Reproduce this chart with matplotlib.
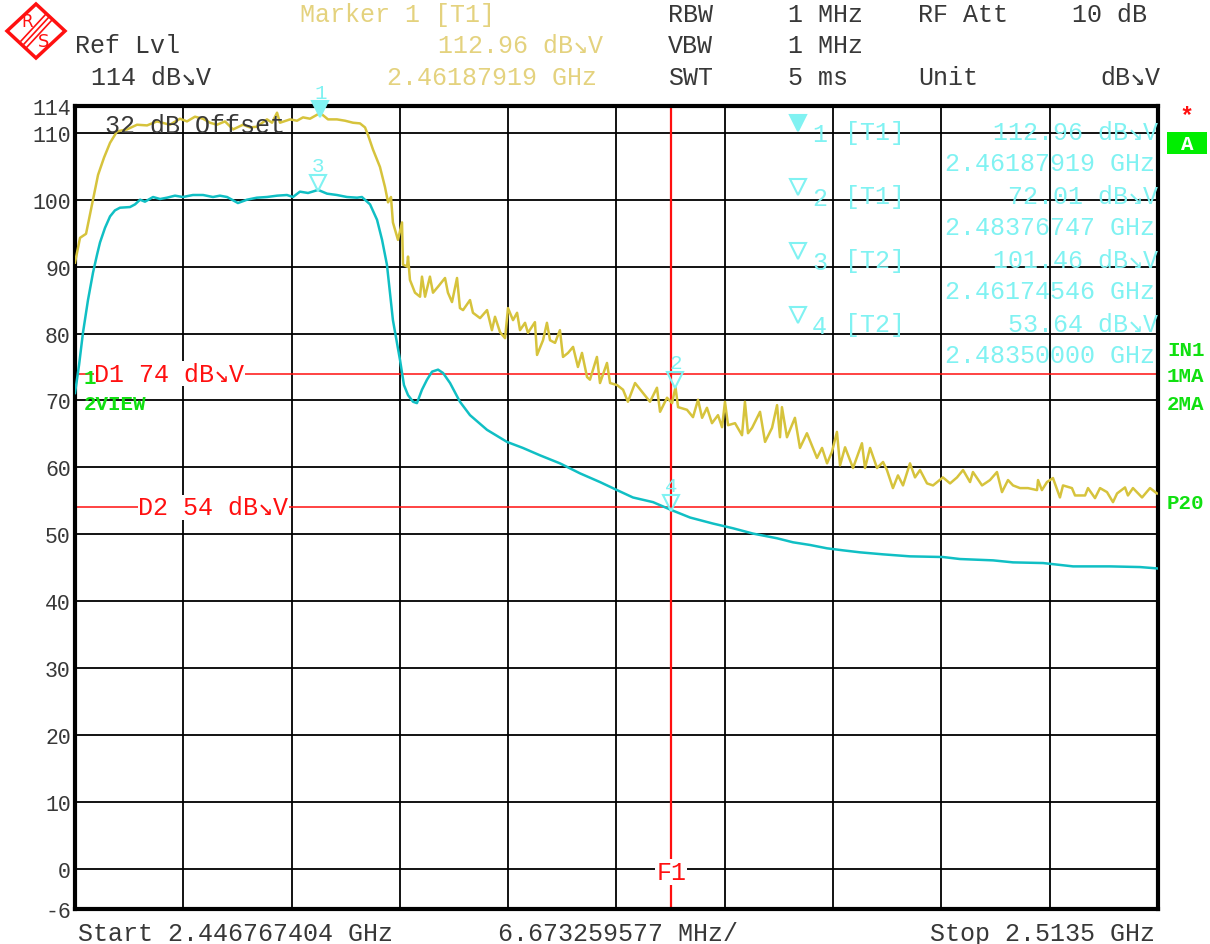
import matplotlib
matplotlib.use('Agg')
import matplotlib.pyplot as plt
from matplotlib.patches import Polygon, Rectangle
from matplotlib.transforms import offset_copy

W, H = 1210, 945

start_ghz = 2.446767404
div_mhz = 6.673259577
stop_ghz = 2.5135
ref_lvl = 114

# trace 1 (yellow) - MHz above start, level dBuV
t1_off = [0.00, 0.31, 0.68, 1.05, 1.42, 1.79, 2.16, 2.59, 3.20, 3.82, 4.44, 5.05, 5.85, 6.47, 6.90,
          7.39, 7.89, 8.32, 8.75, 9.24, 9.74, 10.35, 10.78, 11.21, 11.83, 12.14, 12.45, 12.63, 13.25,
          13.68, 14.05, 14.48, 15.11, 15.59, 16.14, 16.64, 17.13, 17.56, 17.87, 18.05, 18.36, 18.79,
          19.10, 19.29, 19.47, 19.59, 19.90, 20.15, 20.21, 20.46, 20.52, 20.64, 20.95, 21.26, 21.38,
          21.57, 21.87, 22.06, 22.37, 22.80, 22.98, 23.23, 23.54, 23.72, 23.91, 24.34, 24.52, 24.96,
          25.39, 25.69, 25.88, 26.19, 26.50, 26.68, 26.99, 27.24, 27.42, 27.73, 27.91, 28.34, 28.47,
          28.84, 29.08, 29.27, 29.58, 29.88, 30.07, 30.38, 30.69, 30.99, 31.24, 31.55, 31.73, 32.16,
          32.35, 32.78, 32.97, 33.40, 33.77, 34.07, 34.51, 35.00, 35.43, 35.86, 36.05, 36.48, 36.79,
          37.00, 37.16, 37.71, 38.08, 38.39, 38.64, 38.94, 39.25, 39.62, 39.87, 40.05, 40.24, 40.67,
          41.10, 41.28, 41.47, 41.72, 42.21, 42.52, 42.95, 43.26, 43.44, 43.56, 43.87, 44.36, 44.67,
          45.10, 45.72, 46.03, 46.34, 46.64, 46.95, 47.14, 47.45, 47.94, 48.49, 48.68, 48.99, 49.42,
          49.79, 50.03, 50.40, 50.71, 51.02, 51.45, 51.76, 52.07, 52.50, 52.87, 53.48, 53.92, 54.35,
          54.72, 55.15, 55.33, 55.89, 56.38, 56.81, 57.12, 57.49, 57.80, 58.23, 58.72, 59.28, 59.34,
          59.58, 59.89, 60.26, 60.69, 60.88, 61.43, 61.62, 62.24, 62.42, 62.85, 63.16, 63.59, 63.96,
          64.21, 64.70, 64.88, 65.19, 65.75, 66.24, 66.67]
t1_lvl = [90.6, 94.3, 94.9, 99.3, 103.7, 106.3, 108.5, 110.2, 110.5, 111.2, 111.1, 111.7, 111.2, 112.1, 111.7,
          112.4, 112.1, 111.5, 111.2, 111.7, 110.5, 111.2, 110.8, 110.9, 112.0, 111.5, 113.0, 111.5, 112.0,
          111.8, 112.3, 112.1, 112.96, 112.0, 112.0, 111.8, 111.5, 111.4, 110.8, 109.7, 107.5, 104.9,
          101.9, 99.6, 100.4, 96.6, 94.0, 96.6, 90.3, 90.0, 91.5, 88.0, 86.1, 85.5, 88.5,
          85.5, 88.5, 86.1, 87.0, 88.3, 86.1, 84.7, 88.3, 83.8, 83.5, 85.0, 83.1, 82.3,
          83.5, 80.5, 82.5, 80.2, 79.3, 83.8, 82.0, 83.1, 80.5, 81.6, 80.1, 81.7, 76.8,
          79.0, 81.6, 79.0, 78.6, 80.5, 76.5, 77.1, 78.0, 75.0, 77.1, 73.5, 73.1, 76.5,
          72.6, 75.6, 72.6, 72.3, 71.6, 69.8, 72.6, 71.1, 69.8, 71.9, 68.3, 70.4, 69.6,
          72.01, 69.0, 68.6, 67.5, 70.1, 67.4, 68.9, 66.6, 67.8, 66.0, 69.8, 66.3, 66.6,
          64.8, 69.8, 65.1, 65.9, 68.3, 63.8, 65.9, 69.3, 64.5, 69.0, 64.5, 67.4, 62.9,
          65.1, 61.4, 62.9, 60.6, 62.3, 65.3, 60.3, 63.0, 59.9, 63.6, 59.9, 62.9, 59.9,
          60.8, 59.6, 56.9, 58.8, 57.3, 60.6, 58.5, 59.6, 57.6, 57.3, 58.5, 57.6, 58.5,
          59.6, 57.8, 59.3, 57.3, 58.1, 59.3, 56.3, 58.1, 57.3, 56.9, 56.9, 56.6, 58.1,
          56.6, 57.8, 58.4, 55.5, 57.3, 56.9, 55.8, 55.8, 56.9, 55.4, 56.9, 56.3, 54.8,
          56.1, 57.0, 55.8, 56.9, 55.5, 56.9, 56.1]

# trace 2 (cyan)
t2_off = [0.00, 0.25, 0.49, 0.80, 1.11, 1.36, 1.54, 1.85, 2.16, 2.46, 2.77, 3.39, 3.70, 4.01, 4.31,
          4.81, 5.24, 5.67, 6.16, 6.65, 7.27, 7.89, 8.50, 8.93, 9.37, 9.67, 10.04, 10.60, 11.21,
          11.83, 12.45, 13.06, 13.43, 13.86, 14.36, 14.98, 15.53, 16.14, 16.76, 17.38, 17.68, 18.18,
          18.61, 18.92, 19.22, 19.59, 20.03, 20.27, 20.52, 20.83, 21.07, 21.38, 21.69, 22.00, 22.37,
          22.68, 23.11, 23.72, 24.34, 25.39, 26.62, 27.60, 28.65, 29.88, 31.12, 32.35, 33.40, 34.38,
          35.62, 36.73, 37.90, 39.31, 40.54, 41.78, 43.26, 44.24, 45.29, 46.34, 47.32, 48.37, 49.79,
          51.45, 53.48, 54.53, 56.57, 57.80, 59.65, 61.50, 63.78, 65.62, 66.67]
t2_lvl = [71.1, 75.3, 80.1, 85.0, 89.1, 91.8, 93.6, 95.8, 97.5, 98.4, 98.8, 98.9, 99.3, 100.0, 99.7,
          100.4, 100.1, 100.3, 100.6, 100.4, 100.7, 100.7, 100.4, 100.6, 100.4, 100.0, 99.5, 100.0, 100.3,
          100.4, 100.6, 100.7, 100.4, 101.2, 101.0, 101.46, 100.9, 100.7, 100.4, 100.3, 100.4, 99.3,
          97.0, 94.0, 90.3, 82.0, 76.0, 72.3, 70.8, 69.8, 69.6, 71.6, 73.1, 74.3, 74.6,
          74.1, 72.6, 69.8, 67.8, 65.6, 63.8, 62.9, 61.8, 60.6, 59.1, 57.8, 56.6, 55.5,
          54.8, 53.64, 52.5, 51.6, 50.9, 50.1, 49.4, 48.8, 48.4, 47.9, 47.6, 47.3, 47.0,
          46.7, 46.6, 46.3, 46.1, 45.8, 45.7, 45.2, 45.2, 45.1, 44.9]

mk_name = ['1', '2', '3', '4']
mk_trace = ['[T1]', '[T1]', '[T2]', '[T2]']
mk_ghz = [2.46187919, 2.48376747, 2.46174546, 2.48350000]
mk_lvl = [112.96, 72.01, 101.46, 53.64]

lines_lvl = [74, 54]
lines_name = ['D1', 'D2']
f1_ghz = 2.4835

ytick_vals = [114, 110, 100, 90, 80, 70, 60, 50, 40, 30, 20, 10, 0, -6]

MONO = ['Liberation Mono', 'DejaVu Sans Mono']
YEL = '#d6c33c'
YEL_TXT = '#e4d27e'
CYAN = '#10bfc4'
CYAN_TXT = '#80f2f2'
GREEN = '#10e010'
RED = '#ff1010'
DARK = '#383838'
U = 'dB\u2198V'
FS = 18

plt.rcParams['font.family'] = MONO

fig = plt.figure(figsize=(W / 100, H / 100), dpi=100)
fig.patch.set_facecolor('white')


def ftext(x, y, s, **kw):
    kw.setdefault('fontsize', FS)
    kw.setdefault('va', 'center')
    kw.setdefault('color', DARK)
    fig.text(x / W, 1 - y / H, s, **kw)


ax = fig.add_axes([75 / W, 1 - 910 / H, (1158 - 75) / W, (910 - 107) / H])
ax.set_xlim(start_ghz, stop_ghz)
ax.set_ylim(-6, ref_lvl)
ax.set_xticks([start_ghz + i * div_mhz / 1000 for i in range(11)])
ax.set_xticklabels([])
ax.set_yticks(ytick_vals)
ax.set_yticklabels([str(v) for v in ytick_vals], fontsize=15.5, color=DARK)
ax.tick_params(length=0, pad=3)
ax.grid(True, color='black', lw=1.3)
ax.set_axisbelow(True)
for s in ax.spines.values():
    s.set_linewidth(3)

# display lines
for lvl in lines_lvl:
    ax.axhline(lvl, color=RED, lw=1.1, zorder=2)
ax.axvline(f1_ghz, color=RED, lw=1.6, zorder=2)

x1 = [start_ghz + v / 1000 for v in t1_off]
x2 = [start_ghz + v / 1000 for v in t2_off]
ax.plot(x1, t1_lvl, color=YEL, lw=1.8, zorder=3)
ax.plot(x2, t2_lvl, color=CYAN, lw=1.8, zorder=3)

# markers on traces
tri = offset_copy(ax.transData, fig=fig, x=0, y=7, units='dots')
lab = offset_copy(ax.transData, fig=fig, x=0, y=24, units='dots')
for i in range(4):
    fc = CYAN_TXT if i == 0 else 'none'
    ax.plot(mk_ghz[i], min(mk_lvl[i], 112.5), marker='v', ms=11, mfc=fc, mec=CYAN_TXT,
            mew=1.5, transform=tri, clip_on=False, zorder=5)
    ax.text(mk_ghz[i], min(mk_lvl[i], 112.5), mk_name[i], transform=lab, color=CYAN_TXT,
            fontsize=15, ha='center', va='center', clip_on=False, zorder=5)

# D1 / D2 labels
ax.text(start_ghz + 1.2 / 1000, lines_lvl[0], lines_name[0] + ' ' + str(lines_lvl[0]) + ' ' + U,
        color=RED, fontsize=FS, va='center', ha='left', zorder=4,
        bbox=dict(facecolor='white', edgecolor='none', pad=0.5))
ax.text(start_ghz + 3.9 / 1000, lines_lvl[1], lines_name[1] + ' ' + str(lines_lvl[1]) + ' ' + U,
        color=RED, fontsize=FS, va='center', ha='left', zorder=4,
        bbox=dict(facecolor='white', edgecolor='none', pad=0.5))
ax.text(f1_ghz, -0.5, 'F1', color=RED, fontsize=FS, va='center', ha='center', zorder=4,
        bbox=dict(facecolor='white', edgecolor='none', pad=0.5))

# marker table
rows_y = [133, 197, 261, 325]
for i in range(4):
    y = rows_y[i]
    fc = CYAN_TXT if i == 0 else 'none'
    fig.add_artist(plt.Line2D([798 / W], [1 - (y - 9) / H], marker='v', ms=11, mfc=fc,
                              mec=CYAN_TXT, mew=1.5, lw=0))
    ftext(812, y + 2, mk_name[i], color=CYAN_TXT)
    ftext(845, y, mk_trace[i], color=CYAN_TXT)
    ftext(1158, y, '%.2f %s' % (mk_lvl[i], U), color=CYAN_TXT, ha='right')
    ftext(1155, y + 31, '%.8f GHz' % mk_ghz[i], color=CYAN_TXT, ha='right')

ftext(105, 126, '32 dB Offset')

# header
ftext(300, 15, 'Marker 1 [T1]', color=YEL_TXT)
ftext(603, 46, '%.2f %s' % (mk_lvl[0], U), color=YEL_TXT, ha='right')
ftext(597, 78, '%.8f GHz' % mk_ghz[0], color=YEL_TXT, ha='right')
ftext(75, 46, 'Ref Lvl')
ftext(91, 78, '%d %s' % (ref_lvl, U))
ftext(668, 15, 'RBW')
ftext(788, 15, '1 MHz')
ftext(918, 15, 'RF Att')
ftext(1072, 15, '10 dB')
ftext(668, 46, 'VBW')
ftext(788, 46, '1 MHz')
ftext(668, 78, 'SWT')
ftext(788, 78, '5 ms')
ftext(918, 78, 'Unit')
ftext(1160, 78, U, ha='right')

# footer
ftext(78, 934, 'Start %.9f GHz' % start_ghz)
ftext(498, 934, '%.9f MHz/' % div_mhz)
ftext(1155, 934, 'Stop %.4f GHz' % stop_ghz, ha='right')

# side labels
ftext(1187, 117, '*', color=RED, fontsize=17, weight='bold', ha='center')
fig.add_artist(Rectangle((1167 / W, 1 - 155 / H), 40 / W, 22 / H, transform=fig.transFigure,
                         facecolor='#00ee00', edgecolor='none'))
ftext(1187, 144, 'A', color='white', fontsize=15, weight='bold', ha='center')
for s, y in [('IN1', 351), ('1MA', 377), ('2MA', 404), ('P20', 504)]:
    ftext(1167, y, s, color=GREEN, fontsize=15, weight='bold')
ftext(84, 378, '1', color=GREEN, fontsize=15, weight='bold')
ftext(84, 404, '2VIEW', color=GREEN, fontsize=15, weight='bold')

# R&S logo
cx, cy = 36, 32
fig.add_artist(Polygon([((cx - 29) / W, 1 - cy / H), (cx / W, 1 - (cy - 27) / H),
                        ((cx + 29) / W, 1 - cy / H), (cx / W, 1 - (cy + 27) / H)],
                       closed=True, transform=fig.transFigure, facecolor='white',
                       edgecolor=RED, lw=2.5))
for d in [-3, 0, 3]:
    fig.add_artist(plt.Line2D([(cx + 13 + d) / W, (cx - 12 + d) / W],
                              [1 - (cy - 14 + d) / H, 1 - (cy + 13 + d) / H],
                              color=RED, lw=1.2, transform=fig.transFigure))
ftext(27, 22, 'R', color=RED, fontsize=12, ha='center', family='DejaVu Sans')
ftext(44, 42, 'S', color=RED, fontsize=13, ha='center', family='DejaVu Sans')

fig.savefig('out.png', dpi=100)
